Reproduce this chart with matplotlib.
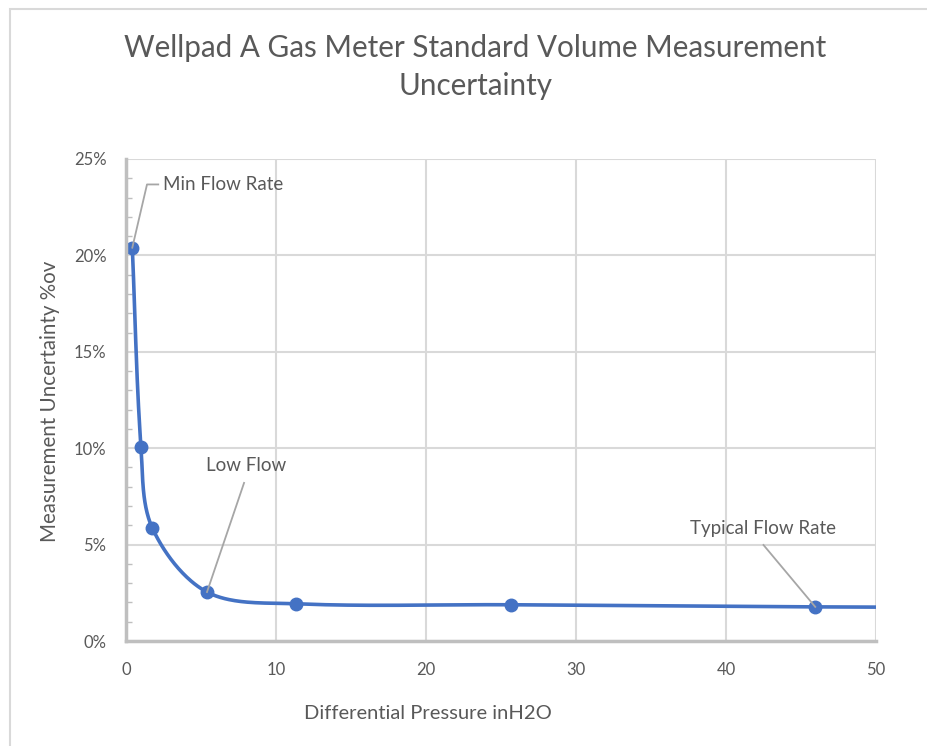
import numpy as np
import matplotlib
matplotlib.use("Agg")
import matplotlib.pyplot as plt
from matplotlib.ticker import MultipleLocator, FuncFormatter
from matplotlib.patches import Rectangle

# values
dp_inh2o = [0.42, 1.0, 1.75, 5.4, 11.35, 25.7, 45.95, 62.0]
uncertainty = [0.2040, 0.1006, 0.0587, 0.0254, 0.0193, 0.0188, 0.0177, 0.0173]

notes = ["Min Flow Rate", "Low Flow", "Typical Flow Rate"]
note_idx = [0, 3, 6]

GRAY_TXT = "#595959"
GRID = "#D9D9D9"
BLUE = "#4472C4"

plt.rcParams['font.family'] = ['Lato', 'DejaVu Sans']

fig = plt.figure(figsize=(9.28, 7.46), dpi=100)
ax = fig.add_axes([126 / 928, 1 - 641 / 746, 750 / 928, 482 / 746])

# chart border (Excel chart area)
fig.patches.append(Rectangle((10 / 928, -0.1), 1.2, 1 - 9 / 746 + 0.1,
                             transform=fig.transFigure, fill=False,
                             edgecolor="#D9D9D9", linewidth=1.5))

ax.set_xlim(0, 50)
ax.set_ylim(0, 0.25)
ax.xaxis.set_major_locator(MultipleLocator(10))
ax.yaxis.set_major_locator(MultipleLocator(0.05))
ax.yaxis.set_minor_locator(MultipleLocator(0.01))
ax.yaxis.set_major_formatter(FuncFormatter(lambda v, p: f"{v * 100:.0f}%"))
ax.grid(True, which="major", color=GRID, linewidth=1.5)
ax.set_axisbelow(True)
for s in ["top", "right"]:
    ax.spines[s].set_visible(False)
for s in ["left", "bottom"]:
    ax.spines[s].set_color("#BFBFBF")
    ax.spines[s].set_linewidth(2.5)
ax.tick_params(axis="both", which="major", length=0, labelsize=12,
               labelcolor=GRAY_TXT)
ax.tick_params(axis="x", which="major", pad=15)
ax.tick_params(axis="y", which="major", pad=14)
ax.tick_params(axis="y", which="minor", direction="in", length=4,
               color="#BFBFBF", width=1)

# Excel style smoothed line: bezier segments computed in display space
fig.canvas.draw()
pts = ax.transData.transform(np.column_stack([dp_inh2o, uncertainty]))
n = len(pts)
curve = [pts[0]]
for i in range(n - 1):
    p0 = pts[max(i - 1, 0)]
    p1 = pts[i]
    p2 = pts[i + 1]
    p3 = pts[min(i + 2, n - 1)]
    d01 = np.hypot(*(p1 - p0))
    d12 = np.hypot(*(p2 - p1))
    d23 = np.hypot(*(p3 - p2))
    c1 = p1 + (p2 - p0) * d12 / (3 * (d01 + d12)) if d01 + d12 > 0 else p1
    c2 = p2 - (p3 - p1) * d12 / (3 * (d12 + d23)) if d12 + d23 > 0 else p2
    t = np.linspace(0, 1, 60)[1:, None]
    seg = ((1 - t) ** 3) * p1 + 3 * ((1 - t) ** 2) * t * c1 + 3 * (1 - t) * t ** 2 * c2 + t ** 3 * p2
    curve.extend(seg)
curve = ax.transData.inverted().transform(np.array(curve))
ax.plot(curve[:, 0], curve[:, 1], color=BLUE, linewidth=2.6, solid_capstyle="round")
ax.plot(dp_inh2o, uncertainty, "o", color=BLUE, markersize=9, linestyle="none")

# data callouts: (text x, text y, leader end x, leader end y)
note_pos = [(2.45, 0.2368, 1.4, 0.2368), (8.0, 0.0908, 7.87, 0.0820),
            (42.5, 0.0581, 42.5, 0.0498)]
for txt, i, (tx, ty, lx, ly) in zip(notes, note_idx, note_pos):
    x, y = dp_inh2o[i], uncertainty[i]
    if i == 0:
        ax.text(tx, ty, txt, fontsize=13.5, color=GRAY_TXT, va="center", ha="left")
        ax.plot([x, lx, tx - 0.3], [y, ly, ly], color="#A6A6A6", linewidth=1.3)
    else:
        ax.text(tx, ty, txt, fontsize=13.5, color=GRAY_TXT, va="center", ha="center")
        ax.plot([x, lx], [y, ly], color="#A6A6A6", linewidth=1.3)

ax.set_xlabel("Differential Pressure inH2O", fontsize=14.5, color=GRAY_TXT)
ax.xaxis.set_label_coords(0.403, -0.133)
ax.set_ylabel("Measurement Uncertainty %ov", fontsize=14.8, color=GRAY_TXT)
ax.yaxis.set_label_coords(-0.088, 0.497)
fig.text(0.512, 1 - 67 / 746, "Wellpad A Gas Meter Standard Volume Measurement\nUncertainty",
         ha="center", va="center", fontsize=21.3, color=GRAY_TXT, linespacing=1.4)

fig.savefig("out.png", dpi=100)
